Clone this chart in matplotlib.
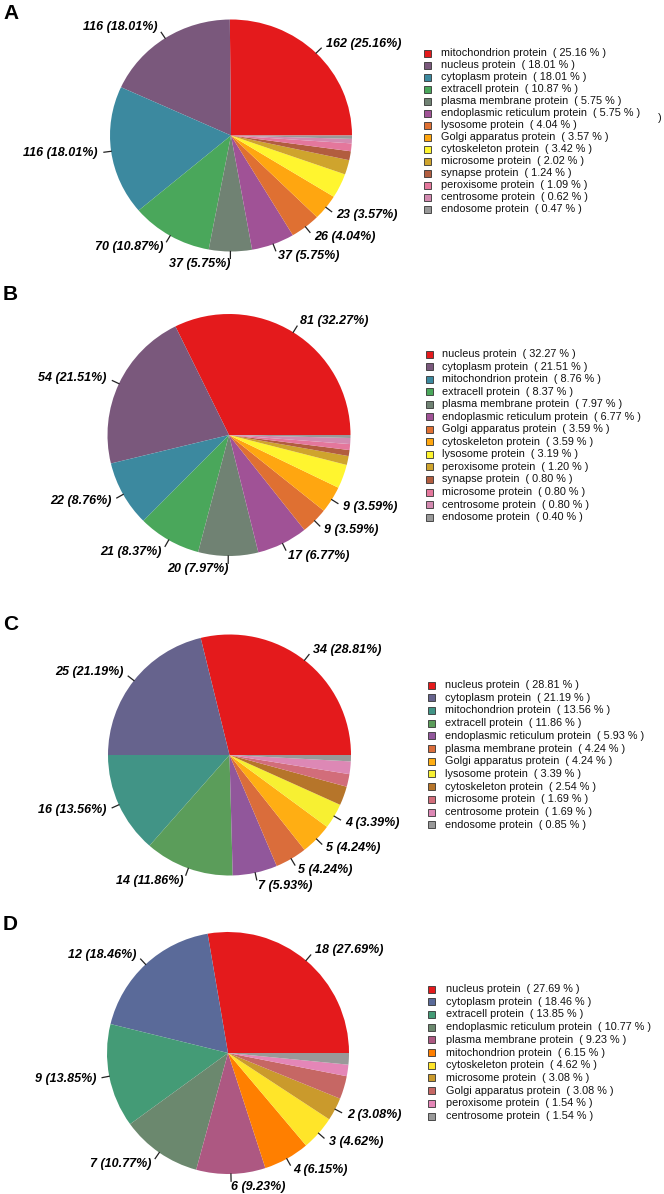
import matplotlib
matplotlib.use('Agg')
import matplotlib.pyplot as plt
from matplotlib.patches import Rectangle
import numpy as np

plt.rcParams['font.family'] = ['Liberation Sans', 'DejaVu Sans']

# ---- data ----
names_a = ['mitochondrion', 'nucleus', 'cytoplasm', 'extracell', 'plasma membrane',
           'endoplasmic reticulum', 'lysosome', 'Golgi apparatus', 'cytoskeleton',
           'microsome', 'synapse', 'peroxisome', 'centrosome', 'endosome']
counts_a = [162, 116, 116, 70, 37, 37, 26, 23, 22, 13, 8, 7, 4, 3]

names_b = ['nucleus', 'cytoplasm', 'mitochondrion', 'extracell', 'plasma membrane',
           'endoplasmic reticulum', 'Golgi apparatus', 'cytoskeleton', 'lysosome',
           'peroxisome', 'synapse', 'microsome', 'centrosome', 'endosome']
counts_b = [81, 54, 22, 21, 20, 17, 9, 9, 8, 3, 2, 2, 2, 1]

names_c = ['nucleus', 'cytoplasm', 'mitochondrion', 'extracell', 'endoplasmic reticulum',
           'plasma membrane', 'Golgi apparatus', 'lysosome', 'cytoskeleton',
           'microsome', 'centrosome', 'endosome']
counts_c = [34, 25, 16, 14, 7, 5, 5, 4, 3, 2, 2, 1]

names_d = ['nucleus', 'cytoplasm', 'extracell', 'endoplasmic reticulum', 'plasma membrane',
           'mitochondrion', 'cytoskeleton', 'microsome', 'Golgi apparatus',
           'peroxisome', 'centrosome']
counts_d = [18, 12, 9, 7, 6, 4, 3, 2, 2, 1, 1]

n_labelled = 8

# Set1 palette, stretched to the number of slices
set1 = ['#E41A1C', '#377EB8', '#4DAF4A', '#984EA3', '#FF7F00',
        '#FFFF33', '#A65628', '#F781BF', '#999999']

def ramp(n):
    base = np.array([matplotlib.colors.to_rgb(c) for c in set1])
    t = np.linspace(0, len(set1) - 1, n)
    x = np.arange(len(set1))
    return [tuple(np.interp(tt, x, base[:, k]) for k in range(3)) for tt in t]

W, H = 664, 1194
fig = plt.figure(figsize=(W / 100, H / 100), dpi=100)

# letter, names, counts, pie centre/radii (px), legend top, row step, marker x, text x, letter y
panels = [
    ('A', names_a, counts_a, (231, 135.5, 121, 116), 53, 12.0, 427, 441, 13.5),
    ('B', names_b, counts_b, (229, 435, 121.5, 121), 354, 12.55, 429, 442, 295),
    ('C', names_c, counts_c, (229.5, 755, 121.5, 120.5), 685, 12.7, 431, 445, 625),
    ('D', names_d, counts_d, (228, 1053, 121, 121), 989, 12.7, 431, 446, 924.5),
]

ov = fig.add_axes([0, 0, 1, 1])
ov.set_xlim(0, W)
ov.set_ylim(H, 0)
ov.axis('off')

for letter, names, counts, (cx, cy, rx, ry), ltop, lstep, mx, tx, ly in panels:
    ax = fig.add_axes([(cx - rx) / W, 1 - (cy + ry) / H, 2 * rx / W, 2 * ry / H])
    cols = ramp(len(counts))
    wedges, _ = ax.pie(counts, colors=cols, startangle=0, counterclock=True,
                       radius=1, wedgeprops=dict(linewidth=0))
    ax.set_aspect('auto')
    ax.set_xlim(-1, 1)
    ax.set_ylim(-1, 1)
    ax.axis('off')

    total = sum(counts)
    for i in range(n_labelled):
        w = wedges[i]
        a = np.deg2rad((w.theta1 + w.theta2) / 2)
        c, s = np.cos(a), np.sin(a)
        ax.plot([c * 1.0, c * 1.06], [s * 1.0, s * 1.06], color='#222222', lw=0.9,
                clip_on=False)
        ax.text(c * 1.11, s * 1.11, '%d (%.2f%%)' % (counts[i], 100 * counts[i] / total),
                ha='left' if c > 0 else 'right', va='center', fontsize=9,
                fontweight='bold', fontstyle='italic', clip_on=False)

    # legend
    for i, nm in enumerate(names):
        y = ltop + i * lstep
        ov.add_patch(Rectangle((mx - 3.5, y - 3.5), 7, 7, facecolor=cols[i],
                               edgecolor='#333333', lw=0.6))
        ov.text(tx, y, '%s protein  ( %.2f %% )' % (nm, 100 * counts[i] / total),
                ha='left', va='center', fontsize=7.8, color='#111111')

    ov.text(3, ly, letter, ha='left', va='center', fontsize=15, fontweight='bold')

# stray bracket in panel A legend
ov.text(660, 118, ')', ha='center', va='center', fontsize=7.8, color='#111111')

fig.savefig('out.png', dpi=100)
